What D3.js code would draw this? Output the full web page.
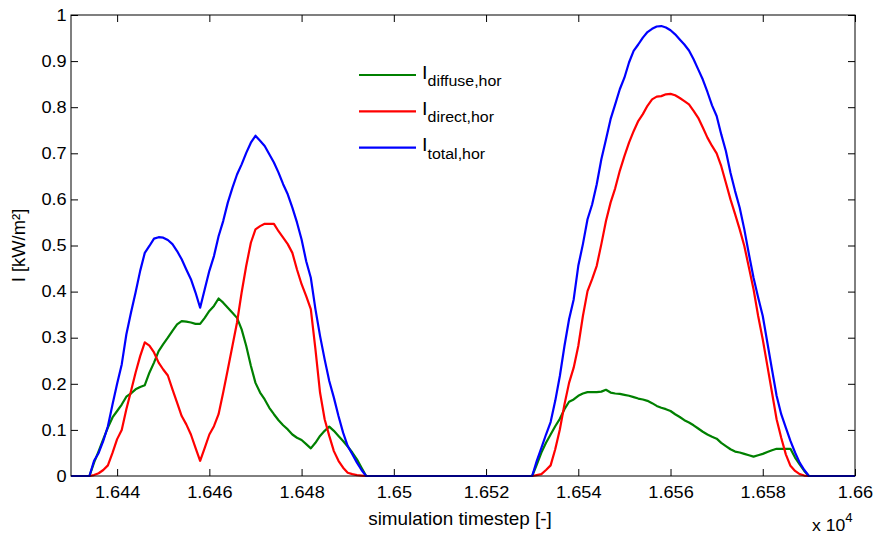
<!DOCTYPE html>
<html>
<head>
<meta charset="utf-8">
<script src="https://cdn.jsdelivr.net/npm/d3@7"></script>
<style>
  html, body { margin: 0; padding: 0; background: #fff; }
  svg { display: block; font-family: "Liberation Sans", Arial, sans-serif; }
</style>
</head>
<body>
<svg id="chart" width="876" height="538"></svg>
<script>
// Horizontal irradiance over two days, one value per simulation timestep (kW/m²)
const xDomain = [16430, 16600];
const yDomain = [0, 1];
const xTicks = [16440, 16460, 16480, 16500, 16520, 16540, 16560, 16580, 16600];
const yTicks = [0, 0.1, 0.2, 0.3, 0.4, 0.5, 0.6, 0.7, 0.8, 0.9, 1];

// first timestep of each daylight period
const dayStarts = [16434, 16530];

const diffuseDay1 = [0, 0.029, 0.054, 0.08, 0.105, 0.127, 0.141, 0.155, 0.172, 0.179, 0.188, 0.193, 0.197,
  0.224, 0.246, 0.271, 0.286, 0.3, 0.315, 0.329, 0.336, 0.335, 0.333, 0.33, 0.33, 0.343, 0.358, 0.369, 0.385,
  0.376, 0.365, 0.354, 0.343, 0.318, 0.282, 0.239, 0.202, 0.181, 0.166, 0.148, 0.134, 0.121, 0.11, 0.101, 0.09,
  0.083, 0.078, 0.069, 0.06, 0.072, 0.087, 0.098, 0.107, 0.098, 0.087, 0.076, 0.064, 0.051, 0.036, 0.018, 0];
const directDay1 = [0, 0.002, 0.006, 0.013, 0.023, 0.05, 0.08, 0.1, 0.145, 0.184, 0.224, 0.26, 0.29,
  0.283, 0.268, 0.246, 0.231, 0.218, 0.188, 0.159, 0.13, 0.112, 0.09, 0.061, 0.033, 0.061, 0.09, 0.108, 0.134,
  0.181, 0.231, 0.282, 0.333, 0.398, 0.456, 0.506, 0.535, 0.542, 0.547, 0.547, 0.547, 0.531, 0.517, 0.503, 0.484,
  0.448, 0.416, 0.39, 0.362, 0.275, 0.181, 0.123, 0.087, 0.054, 0.033, 0.018, 0.007, 0.004, 0.002, 0.001, 0];
const totalDay1 = [0, 0.033, 0.05, 0.076, 0.108, 0.155, 0.2, 0.242, 0.307, 0.354, 0.398, 0.445, 0.484,
  0.499, 0.515, 0.518, 0.517, 0.512, 0.503, 0.488, 0.47, 0.448, 0.427, 0.398, 0.365, 0.405, 0.445, 0.477, 0.52,
  0.553, 0.593, 0.625, 0.654, 0.676, 0.701, 0.723, 0.738, 0.727, 0.716, 0.698, 0.68, 0.658, 0.633, 0.611, 0.582,
  0.55, 0.513, 0.466, 0.43, 0.362, 0.304, 0.253, 0.206, 0.17, 0.13, 0.094, 0.065, 0.047, 0.029, 0.013, 0];

const diffuseDay2 = [0, 0.025, 0.051, 0.072, 0.09, 0.108, 0.124, 0.145, 0.161, 0.166, 0.174, 0.179, 0.182,
  0.182, 0.182, 0.183, 0.187, 0.181, 0.179, 0.178, 0.176, 0.174, 0.171, 0.168, 0.166, 0.163, 0.158, 0.152, 0.148,
  0.145, 0.141, 0.134, 0.128, 0.121, 0.116, 0.11, 0.103, 0.096, 0.09, 0.085, 0.081, 0.072, 0.065, 0.058, 0.053,
  0.051, 0.048, 0.045, 0.042, 0.045, 0.048, 0.052, 0.056, 0.059, 0.059, 0.059, 0.059, 0.04, 0.025, 0.011, 0];
const directDay2 = [0, 0.002, 0.004, 0.013, 0.023, 0.058, 0.101, 0.155, 0.202, 0.235, 0.282, 0.347, 0.401,
  0.427, 0.456, 0.503, 0.553, 0.593, 0.624, 0.662, 0.694, 0.723, 0.748, 0.77, 0.785, 0.803, 0.817, 0.823, 0.824,
  0.828, 0.829, 0.826, 0.82, 0.813, 0.806, 0.792, 0.777, 0.756, 0.734, 0.716, 0.7, 0.672, 0.636, 0.6, 0.568,
  0.535, 0.499, 0.452, 0.405, 0.347, 0.296, 0.239, 0.181, 0.123, 0.083, 0.047, 0.022, 0.011, 0.004, 0.001, 0];
const totalDay2 = [0, 0.033, 0.061, 0.09, 0.117, 0.163, 0.217, 0.282, 0.34, 0.383, 0.456, 0.503, 0.557,
  0.589, 0.633, 0.687, 0.73, 0.774, 0.806, 0.839, 0.864, 0.897, 0.922, 0.936, 0.951, 0.963, 0.97, 0.975, 0.976,
  0.973, 0.967, 0.958, 0.947, 0.936, 0.923, 0.904, 0.882, 0.86, 0.833, 0.804, 0.781, 0.741, 0.705, 0.658, 0.618,
  0.582, 0.535, 0.481, 0.43, 0.387, 0.347, 0.289, 0.231, 0.174, 0.134, 0.105, 0.076, 0.051, 0.029, 0.013, 0];

const seriesNames = ["diffuse,hor", "direct,hor", "total,hor"];
const seriesColors = ["#008000", "#ff0000", "#0000ff"];
const seriesDays = [[diffuseDay1, diffuseDay2], [directDay1, directDay2], [totalDay1, totalDay2]];

// full timeline: night timesteps are zero
const timesteps = d3.range(xDomain[0], xDomain[1] + 1);
function buildSeries(days) {
  return timesteps.map(t => {
    let v = 0;
    days.forEach((vals, i) => {
      const k = t - dayStarts[i];
      if (k >= 0 && k < vals.length) v = vals[k];
    });
    return { t, v };
  });
}
const series = seriesDays.map((days, i) => ({ name: seriesNames[i], color: seriesColors[i], values: buildSeries(days) }));

const margin = { left: 71, right: 21, top: 15, bottom: 62 };
const W = 876, H = 538;
const svg = d3.select("#chart");
const x = d3.scaleLinear().domain(xDomain).range([margin.left, W - margin.right]);
const y = d3.scaleLinear().domain(yDomain).range([H - margin.bottom, margin.top]);

svg.append("rect").attr("width", W).attr("height", H).attr("fill", "#fff");

const tickLen = 7;
const stretch = "scale(1.1,1)"; // slightly wide lettering
const fmtX = d => d3.format("~g")(d / 1e4);
const fmtY = d => d3.format("~g")(d);

const gx = svg.append("g").attr("transform", `translate(0,${y(0)})`)
  .call(d3.axisBottom(x).tickValues(xTicks).tickSize(-tickLen).tickPadding(10).tickFormat(fmtX));
const gxTop = svg.append("g").attr("transform", `translate(0,${y(1)})`)
  .call(d3.axisTop(x).tickValues(xTicks).tickSize(-tickLen).tickFormat(""));
const gy = svg.append("g").attr("transform", `translate(${x(xDomain[0])},0)`)
  .call(d3.axisLeft(y).tickValues(yTicks).tickSize(-tickLen).tickPadding(4).tickFormat(fmtY));
const gyRight = svg.append("g").attr("transform", `translate(${x(xDomain[1])},0)`)
  .call(d3.axisRight(y).tickValues(yTicks).tickSize(-tickLen).tickFormat(""));

[gx, gxTop, gy, gyRight].forEach(g => {
  g.select(".domain").remove();
  g.selectAll(".tick line").attr("stroke", "#000").attr("stroke-width", 1);
  g.selectAll("text").attr("fill", "#000").attr("transform", stretch)
    .style("font-size", "16.5px").style("font-family", "Liberation Sans, Arial, sans-serif");
});

// plot lines
const line = d3.line().x(d => x(d.t)).y(d => y(d.v));
svg.append("g").selectAll("path").data(series).join("path")
  .attr("d", d => line(d.values))
  .attr("fill", "none")
  .attr("stroke", d => d.color)
  .attr("stroke-width", 2.2)
  .attr("stroke-linejoin", "round");

// axes box
svg.append("rect")
  .attr("x", x(xDomain[0])).attr("y", y(1))
  .attr("width", x(xDomain[1]) - x(xDomain[0])).attr("height", y(0) - y(1))
  .attr("fill", "none").attr("stroke", "#000").attr("stroke-width", 1);

// axis labels
svg.append("text").attr("transform", `translate(460,525) scale(1.05,1)`)
  .attr("text-anchor", "middle").style("font-size", "18px").text("simulation timestep [-]");
const exp = svg.append("text").attr("transform", `translate(812,531) ${stretch}`).style("font-size", "16px");
exp.append("tspan").text("x 10");
exp.append("tspan").attr("dy", -9).style("font-size", "12px").text("4");

svg.append("text").attr("transform", `translate(25,${(y(0) + y(1)) / 2}) rotate(-90) scale(1.05,1)`)
  .attr("text-anchor", "middle").style("font-size", "17.5px").text("I [kW/m²]");

// legend
const legend = svg.append("g");
series.forEach((s, i) => {
  const ly = 75 + i * 36.3;
  legend.append("line").attr("x1", 359).attr("x2", 416).attr("y1", ly).attr("y2", ly)
    .attr("stroke", s.color).attr("stroke-width", 2.2);
  const t = legend.append("text").attr("transform", `translate(422,${ly + 3.5}) ${stretch}`).style("font-size", "18px");
  t.append("tspan").text("I");
  t.append("tspan").attr("dy", 7.5).style("font-size", "14.5px").text(s.name);
});
</script>
</body>
</html>
